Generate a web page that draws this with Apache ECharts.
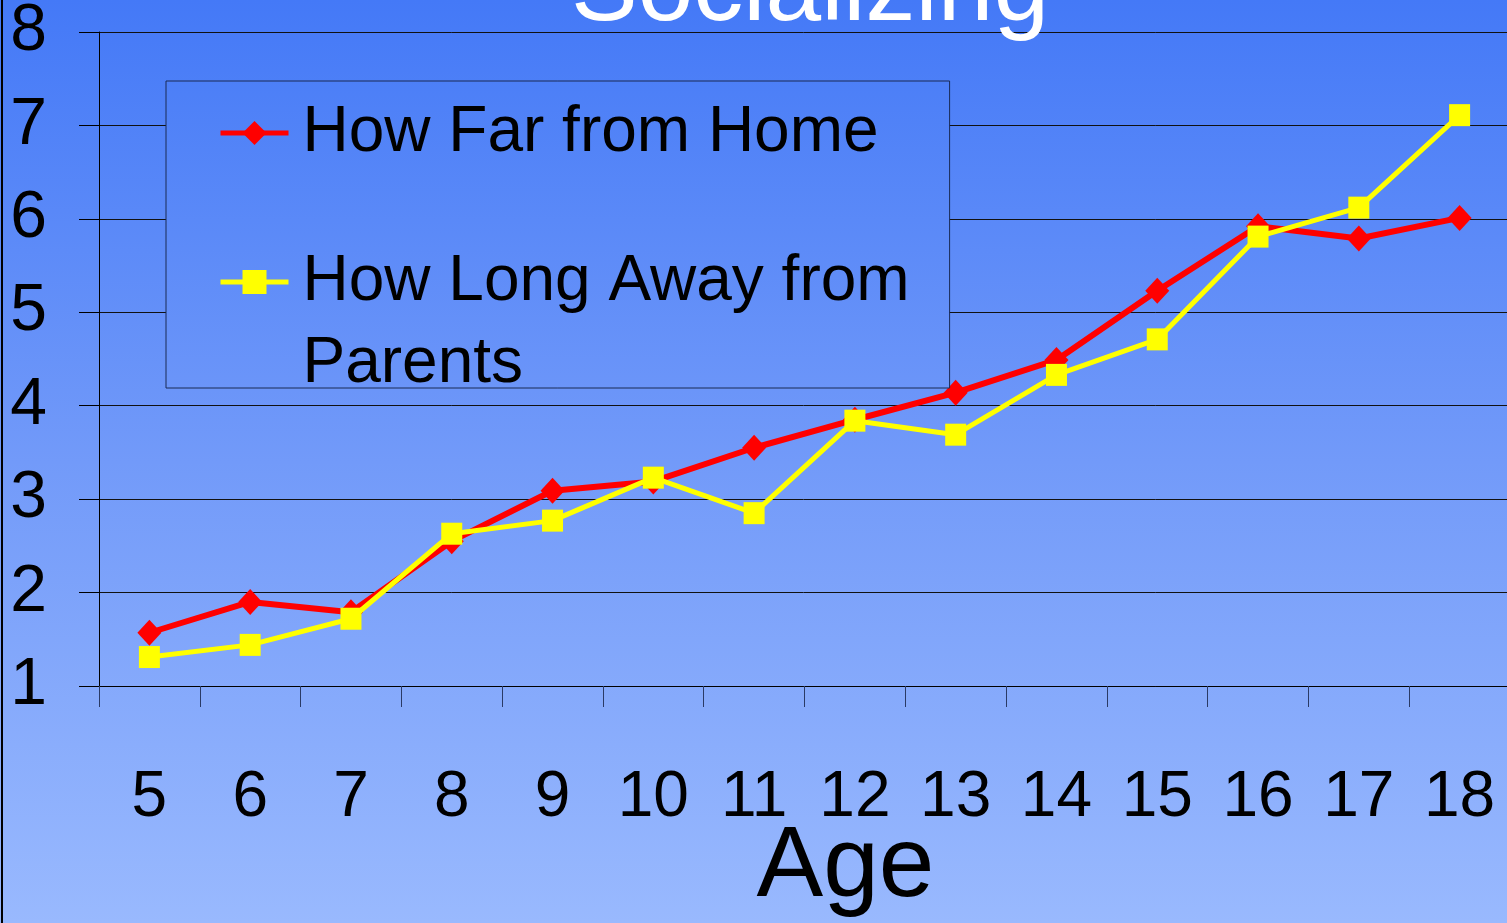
<!DOCTYPE html>
<html>
<head>
<meta charset="utf-8">
<script src="https://cdn.jsdelivr.net/npm/echarts@6/dist/echarts.min.js"></script>
<style>
  html, body { margin: 0; padding: 0; }
  #chart { width: 1507px; height: 923px; }
</style>
</head>
<body>
<div id="chart"></div>
<script>
var ages = ['5', '6', '7', '8', '9', '10', '11', '12', '13', '14', '15', '16', '17', '18'];
var farFromHome = [1.57, 1.90, 1.79, 2.55, 3.09, 3.19, 3.55, 3.85, 4.14, 4.49, 5.23, 5.92, 5.79, 6.01];
var longAway = [1.31, 1.44, 1.72, 2.63, 2.77, 3.23, 2.85, 3.84, 3.69, 4.33, 4.71, 5.81, 6.12, 7.11];
var seriesNames = ['How Far from Home', 'How Long Away from\nParents'];

var myChart = echarts.init(document.getElementById('chart'));

var font = 'Liberation Sans, Arial, sans-serif';

var option = {
  backgroundColor: {
    type: 'linear', x: 0, y: 0, x2: 0, y2: 1,
    colorStops: [
      { offset: 0, color: '#4479f7' },
      { offset: 0.5, color: '#729af9' },
      { offset: 1, color: '#99b9fe' }
    ]
  },
  animation: false,
  title: {
    text: 'Socializing',
    left: 810,
    top: -58,
    padding: 0,
    textAlign: 'center',
    textStyle: { color: '#fff', fontSize: 100, lineHeight: 100, fontWeight: 'normal', fontFamily: font }
  },
  grid: {
    left: 99,
    top: 32,
    right: -3,
    bottom: 923 - 686,
    outerBoundsMode: 'none'
  },
  legend: {
    orient: 'vertical',
    left: 166,
    top: 81,
    padding: [20, 40, -8, 52],
    itemGap: 30,
    itemWidth: 68,
    itemHeight: 30,
    borderColor: '#1a2a55',
    borderWidth: 1,
    // 图例框盖住网格线
    backgroundColor: {
      type: 'linear', x: 0, y: 0, x2: 0, y2: 1,
      colorStops: [
        { offset: 0, color: '#4c7ff7' },
        { offset: 1, color: '#6b95f9' }
      ]
    },
    lineStyle: { width: 5 },
    data: seriesNames,
    formatter: function (name) {
      if (name.indexOf('\n') >= 0) {
        var parts = name.split('\n');
        return '{p| }\n{a|' + parts[0] + '}\n{b|' + parts[1] + '}';
      }
      return '{s|' + name + '}';
    },
    textStyle: {
      color: '#000',
      fontFamily: font,
      fontSize: 64,
      rich: {
        s: { fontSize: 64, lineHeight: 72, fontFamily: font, color: '#000', padding: [0, 0, 0, 9] },
        p: { fontSize: 10, lineHeight: 42 },
        a: { fontSize: 64, lineHeight: 122, fontFamily: font, color: '#000', padding: [0, 0, 0, 9] },
        b: { fontSize: 64, lineHeight: 42, fontFamily: font, color: '#000', padding: [0, 0, 0, 9] }
      }
    }
  },
  xAxis: {
    type: 'category',
    data: ages,
    boundaryGap: true,
    name: 'Age',
    nameLocation: 'middle',
    nameGap: 132,
    nameMoveOverlap: false,
    nameTextStyle: { color: '#000', fontSize: 100, fontFamily: font, padding: [0, 0, 0, 82] },
    axisLine: { lineStyle: { color: '#000', width: 1 } },
    axisTick: { show: true, length: 21, lineStyle: { color: '#2a3a66' } },
    axisLabel: { color: '#000', fontSize: 64, fontFamily: font, margin: 80, interval: 0 },
    splitLine: { show: false }
  },
  yAxis: {
    type: 'value',
    min: 1,
    max: 8,
    interval: 1,
    axisLine: { show: true, lineStyle: { color: '#000', width: 1 } },
    axisTick: { show: true, length: 20, lineStyle: { color: '#000' } },
    axisLabel: { color: '#000', fontSize: 66, fontFamily: font, margin: 52 },
    splitLine: { show: true, lineStyle: { color: '#111', width: 1 } }
  },
  graphic: [
    {
      type: 'line',
      shape: { x1: 2, y1: 0, x2: 2, y2: 923 },
      style: { stroke: '#000', lineWidth: 2 }
    }
  ],
  series: [
    {
      name: seriesNames[0],
      type: 'line',
      data: farFromHome,
      symbol: 'diamond',
      symbolSize: [24, 26],
      lineStyle: { color: '#ff0000', width: 6 },
      itemStyle: { color: '#ff0000' },
      z: 2
    },
    {
      name: seriesNames[1],
      type: 'line',
      data: longAway,
      symbol: 'rect',
      symbolSize: [21, 22],
      lineStyle: { color: '#ffff00', width: 5 },
      itemStyle: { color: '#ffff00' },
      z: 3
    }
  ]
};

myChart.setOption(option);
</script>
</body>
</html>
